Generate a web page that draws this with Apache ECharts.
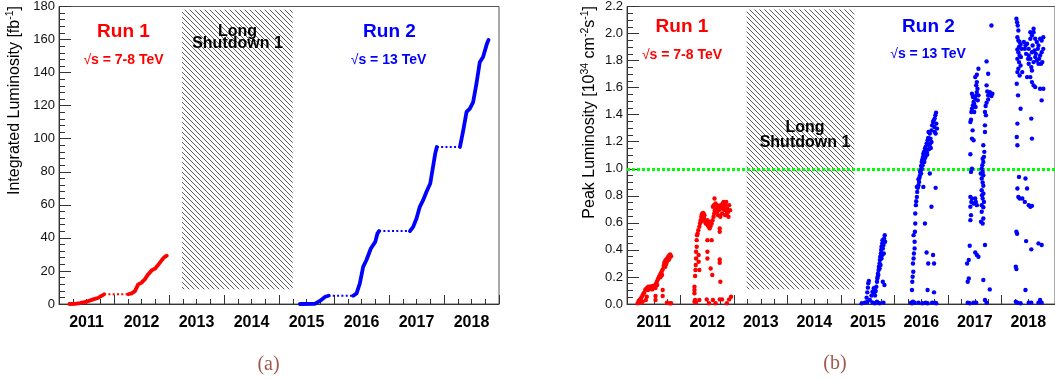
<!DOCTYPE html>
<html>
<head>
<meta charset="utf-8">
<script src="https://cdn.jsdelivr.net/npm/echarts@6/dist/echarts.min.js"></script>
<style>
  html, body { margin: 0; padding: 0; background: #fff; }
  #chart { width: 1055px; height: 380px; }
</style>
</head>
<body>
<div id="chart"></div>
<script>
// Year labels, centred on each calendar year
const years = ['2011', '2012', '2013', '2014', '2015', '2016', '2017', '2018'];

// Long Shutdown 1 period [start, end] in decimal years
const shutdownPeriod = [2013.236, 2015.25];

// Integrated luminosity [decimal year, fb^-1] per data-taking year
const intLumi2011 = [[2011.19, 0], [2011.29, 0.1], [2011.38, 0.6], [2011.50, 1.4], [2011.62, 2.8], [2011.72, 3.8], [2011.78, 5.0], [2011.82, 5.9]];
const intLumi2012 = [[2012.26, 5.9], [2012.32, 6.4], [2012.38, 7.8], [2012.42, 10.5], [2012.44, 11.9], [2012.50, 12.9], [2012.56, 14.9], [2012.62, 17.9], [2012.69, 20.5], [2012.75, 21.5], [2012.81, 24.0], [2012.87, 26.6], [2012.91, 28.2], [2012.96, 29.2]];
const intLumi2015 = [[2015.38, 0], [2015.65, 0.1], [2015.75, 2.0], [2015.84, 4.4], [2015.90, 5.0]];
const intLumi2016 = [[2016.35, 5.0], [2016.41, 6.4], [2016.47, 12.5], [2016.53, 22.5], [2016.59, 26.6], [2016.67, 33.6], [2016.75, 37.6], [2016.79, 42.7], [2016.82, 44.1]];
const intLumi2017 = [[2017.38, 44.1], [2017.44, 46.7], [2017.50, 51.7], [2017.56, 58.8], [2017.62, 62.8], [2017.68, 67.8], [2017.75, 72.9], [2017.79, 80.9], [2017.84, 91.0], [2017.87, 95.0]];
const intLumi2018 = [[2018.29, 95.0], [2018.35, 105.1], [2018.41, 116.2], [2018.47, 118.2], [2018.53, 122.2], [2018.59, 133.3], [2018.65, 146.3], [2018.71, 149.4], [2018.78, 157.4], [2018.81, 159.8]];

// Peak luminosity per fill [decimal year, 10^34 cm^-2 s^-1]
const peak2011 = [
  [2011.200, 0.005], [2011.218, 0.022], [2011.236, 0.030], [2011.261, 0.042], [2011.285, 0.059], [2011.303, 0.074], [2011.321, 0.084], [2011.339, 0.103],
  [2011.358, 0.113], [2011.382, 0.121], [2011.400, 0.128], [2011.418, 0.123], [2011.442, 0.130], [2011.461, 0.125], [2011.479, 0.133], [2011.503, 0.123],
  [2011.521, 0.138], [2011.539, 0.148], [2011.558, 0.165], [2011.576, 0.182], [2011.594, 0.197], [2011.612, 0.212], [2011.630, 0.226], [2011.648, 0.239],
  [2011.667, 0.256], [2011.685, 0.281], [2011.697, 0.305], [2011.715, 0.320], [2011.733, 0.330], [2011.752, 0.337], [2011.770, 0.349], [2011.788, 0.359],
  [2011.806, 0.367], [2011.824, 0.354], [2011.697, 0.288], [2011.715, 0.276], [2011.733, 0.295], [2011.745, 0.312], [2011.776, 0.325], [2011.794, 0.337],
  [2011.394, 0.103], [2011.430, 0.113], [2011.473, 0.108], [2011.533, 0.118], [2011.564, 0.140], [2011.624, 0.197], [2011.655, 0.214],
  [2011.352, 0.030], [2011.370, 0.054], [2011.533, 0.059], [2011.533, 0.030], [2011.667, 0.103], [2011.667, 0.059], [2011.745, 0.010],
  [2011.794, 0.005], [2011.824, 0.005], [2011.261, 0.010], [2011.291, 0.017]
];
const peak2012 = [
  [2012.261, 0.017], [2012.261, 0.103], [2012.261, 0.128], [2012.273, 0.207], [2012.279, 0.251], [2012.285, 0.288], [2012.291, 0.337], [2012.291, 0.386],
  [2012.303, 0.423], [2012.303, 0.472], [2012.309, 0.509], [2012.321, 0.522], [2012.333, 0.546], [2012.339, 0.362], [2012.339, 0.312], [2012.352, 0.251],
  [2012.352, 0.571], [2012.364, 0.595], [2012.376, 0.620], [2012.388, 0.645], [2012.400, 0.664], [2012.412, 0.669], [2012.424, 0.674], [2012.436, 0.664],
  [2012.448, 0.657], [2012.382, 0.608], [2012.412, 0.620], [2012.442, 0.632], [2012.461, 0.608], [2012.473, 0.595], [2012.491, 0.608], [2012.509, 0.583],
  [2012.527, 0.571], [2012.545, 0.559], [2012.564, 0.576], [2012.582, 0.595], [2012.600, 0.620], [2012.618, 0.645], [2012.630, 0.669], [2012.642, 0.694],
  [2012.636, 0.780], [2012.655, 0.743], [2012.667, 0.706], [2012.685, 0.682], [2012.703, 0.657], [2012.715, 0.694], [2012.733, 0.719], [2012.752, 0.731],
  [2012.770, 0.706], [2012.788, 0.743], [2012.806, 0.719], [2012.824, 0.694], [2012.836, 0.731], [2012.855, 0.755], [2012.873, 0.706], [2012.891, 0.682],
  [2012.909, 0.731], [2012.927, 0.694], [2012.606, 0.719], [2012.624, 0.731], [2012.685, 0.731], [2012.776, 0.669], [2012.867, 0.669], [2012.806, 0.755],
  [2012.897, 0.645], [2012.836, 0.657], [2012.745, 0.645], [2012.533, 0.608], [2012.503, 0.620],
  [2012.503, 0.472], [2012.503, 0.386], [2012.503, 0.337], [2012.564, 0.263], [2012.594, 0.214], [2012.582, 0.472], [2012.733, 0.559], [2012.733, 0.534],
  [2012.733, 0.330], [2012.733, 0.305], [2012.745, 0.165], [2012.273, 0.030], [2012.291, 0.010], [2012.491, 0.034], [2012.533, 0.005], [2012.606, 0.030],
  [2012.655, 0.005], [2012.733, 0.034], [2012.776, 0.034], [2012.867, 0.005], [2012.909, 0.034], [2012.945, 0.054], [2012.261, 0.079], [2012.352, 0.030]
];
const peak2015 = [
  [2015.388, 0.005], [2015.448, 0.010], [2015.491, 0.017], [2015.539, 0.030], [2015.588, 0.012], [2015.630, 0.005], [2015.672, 0.017], [2015.721, 0.005],
  [2015.794, 0.010], [2015.479, 0.047], [2015.491, 0.086], [2015.503, 0.121], [2015.509, 0.153], [2015.521, 0.170], [2015.570, 0.062], [2015.588, 0.091],
  [2015.612, 0.116], [2015.636, 0.062], [2015.648, 0.096], [2015.660, 0.128], [2015.673, 0.165], [2015.685, 0.202], [2015.691, 0.226], [2015.703, 0.251],
  [2015.709, 0.276], [2015.721, 0.300], [2015.727, 0.325], [2015.733, 0.349], [2015.745, 0.374], [2015.751, 0.399], [2015.757, 0.423], [2015.770, 0.448],
  [2015.776, 0.472], [2015.782, 0.411], [2015.794, 0.436], [2015.800, 0.374], [2015.806, 0.485], [2015.818, 0.509], [2015.824, 0.460], [2015.721, 0.263],
  [2015.739, 0.288], [2015.757, 0.337], [2015.770, 0.362], [2015.697, 0.214], [2015.679, 0.189], [2015.618, 0.079], [2015.782, 0.165], [2015.812, 0.140]
];
const peak2016 = [
  [2016.309, 0.010], [2016.327, 0.005], [2016.345, 0.017], [2016.376, 0.010], [2016.448, 0.010], [2016.521, 0.005], [2016.581, 0.010], [2016.618, 0.005],
  [2016.703, 0.010], [2016.751, 0.010], [2016.781, 0.005], [2016.327, 0.103], [2016.333, 0.165], [2016.339, 0.202], [2016.351, 0.239], [2016.345, 0.300],
  [2016.357, 0.337], [2016.363, 0.374], [2016.376, 0.460], [2016.382, 0.534], [2016.388, 0.595], [2016.388, 0.669], [2016.400, 0.731], [2016.406, 0.760],
  [2016.418, 0.792], [2016.424, 0.829], [2016.436, 0.859], [2016.448, 0.878], [2016.448, 0.923], [2016.460, 0.903], [2016.472, 0.947], [2016.478, 0.977],
  [2016.491, 0.989], [2016.497, 1.021], [2016.509, 1.001], [2016.509, 1.051], [2016.521, 1.070], [2016.533, 1.088], [2016.539, 1.112], [2016.551, 1.125],
  [2016.563, 1.075], [2016.569, 1.149], [2016.581, 1.161], [2016.593, 1.137], [2016.600, 1.186], [2016.612, 1.105], [2016.618, 1.211], [2016.630, 1.228],
  [2016.636, 1.272], [2016.648, 1.174], [2016.660, 1.260], [2016.672, 1.223], [2016.691, 1.284], [2016.703, 1.321], [2016.721, 1.346], [2016.733, 1.358],
  [2016.745, 1.309], [2016.751, 1.371], [2016.763, 1.395], [2016.776, 1.415], [2016.781, 1.334], [2016.794, 1.297], [2016.751, 1.272], [2016.769, 1.260],
  [2016.466, 0.933], [2016.497, 0.965], [2016.527, 1.026], [2016.557, 1.051], [2016.581, 1.088], [2016.606, 1.120], [2016.642, 1.144], [2016.666, 1.186],
  [2016.679, 1.154], [2016.691, 1.198], [2016.539, 0.866], [2016.660, 0.965], [2016.569, 0.595], [2016.691, 0.719], [2016.721, 0.362], [2016.600, 0.381],
  [2016.630, 0.300], [2016.739, 0.300], [2016.769, 0.859], [2016.618, 0.103], [2016.739, 0.086], [2016.418, 0.866], [2016.357, 0.509], [2016.376, 0.411]
];
const peak2017 = [
  [2017.369, 0.010], [2017.406, 0.005], [2017.478, 0.010], [2017.527, 0.010], [2017.691, 0.030], [2017.721, 0.010], [2017.369, 0.165], [2017.388, 0.189],
  [2017.357, 0.300], [2017.388, 0.325], [2017.406, 0.431], [2017.418, 0.620], [2017.430, 0.657], [2017.418, 0.719], [2017.436, 0.755], [2017.448, 0.780],
  [2017.418, 0.792], [2017.478, 0.743], [2017.509, 0.780], [2017.539, 0.731], [2017.521, 0.755], [2017.430, 0.977], [2017.448, 1.001], [2017.418, 1.107],
  [2017.448, 1.223], [2017.478, 1.211], [2017.418, 1.346], [2017.430, 1.363], [2017.436, 1.420], [2017.448, 1.444], [2017.466, 1.469], [2017.478, 1.494],
  [2017.491, 1.479], [2017.509, 1.518], [2017.527, 1.543], [2017.539, 1.567], [2017.551, 1.592], [2017.527, 1.617], [2017.539, 1.641], [2017.509, 1.678],
  [2017.539, 1.695], [2017.448, 1.555], [2017.466, 1.531], [2017.557, 1.506], [2017.569, 1.543], [2017.460, 1.284], [2017.491, 1.420], [2017.515, 1.457],
  [2017.569, 1.740], [2017.721, 1.794], [2017.751, 1.703], [2017.721, 1.617], [2017.733, 1.572], [2017.751, 1.543], [2017.769, 1.555], [2017.781, 1.567],
  [2017.793, 1.548], [2017.812, 1.538], [2017.830, 1.555], [2017.751, 1.513], [2017.721, 1.489], [2017.703, 1.464], [2017.691, 1.420], [2017.709, 1.395],
  [2017.691, 1.321], [2017.691, 1.272], [2017.660, 1.174], [2017.679, 1.125], [2017.648, 1.075], [2017.660, 1.051], [2017.630, 1.001], [2017.648, 0.977],
  [2017.660, 0.952], [2017.630, 0.928], [2017.648, 0.898], [2017.660, 0.874], [2017.630, 0.842], [2017.660, 0.817], [2017.648, 0.780], [2017.630, 0.731],
  [2017.660, 0.716], [2017.630, 0.682], [2017.660, 0.632], [2017.618, 0.608], [2017.648, 0.595], [2017.691, 0.436], [2017.660, 0.177], [2017.781, 0.108],
  [2017.539, 0.362], [2017.509, 0.381], [2017.569, 0.349], [2017.812, 2.060], [2017.612, 0.965], [2017.642, 1.026], [2017.672, 1.088], [2017.636, 0.805],
  [2017.672, 0.755]
];
const peak2018 = [
  [2018.279, 2.109], [2018.291, 2.084], [2018.303, 2.060], [2018.315, 2.023], [2018.297, 1.973], [2018.315, 1.949], [2018.339, 1.937], [2018.357, 1.917],
  [2018.327, 1.900], [2018.297, 1.882], [2018.315, 1.862], [2018.339, 1.838], [2018.363, 1.826], [2018.297, 1.813], [2018.327, 1.789], [2018.357, 1.764],
  [2018.315, 1.740], [2018.297, 1.715], [2018.339, 1.690], [2018.388, 1.715], [2018.376, 1.887], [2018.285, 1.629], [2018.309, 1.543], [2018.297, 1.334],
  [2018.357, 1.444], [2018.285, 1.235], [2018.297, 1.174], [2018.327, 0.940], [2018.297, 0.854], [2018.315, 0.792], [2018.339, 0.780], [2018.279, 0.534],
  [2018.291, 0.519], [2018.267, 0.276], [2018.279, 0.258], [2018.267, 0.017], [2018.297, 0.010], [2018.357, 0.005], [2018.418, 1.937], [2018.448, 1.912],
  [2018.478, 1.924], [2018.509, 1.887], [2018.539, 1.961], [2018.569, 1.986], [2018.600, 2.010], [2018.630, 1.961], [2018.660, 1.937], [2018.691, 1.912],
  [2018.721, 1.961], [2018.751, 1.949], [2018.781, 1.973], [2018.509, 1.838], [2018.539, 1.813], [2018.569, 1.862], [2018.600, 1.789], [2018.630, 1.826],
  [2018.660, 1.801], [2018.691, 1.777], [2018.721, 1.838], [2018.751, 1.862], [2018.781, 1.887], [2018.509, 1.777], [2018.557, 1.752], [2018.582, 1.912],
  [2018.618, 1.875], [2018.642, 1.850], [2018.679, 1.887], [2018.703, 1.813], [2018.739, 1.777], [2018.763, 1.789], [2018.569, 1.727], [2018.539, 1.678],
  [2018.569, 1.641], [2018.600, 1.617], [2018.630, 1.604], [2018.478, 1.678], [2018.539, 2.010], [2018.600, 2.035], [2018.436, 1.887], [2018.460, 1.850],
  [2018.497, 1.813], [2018.448, 0.928], [2018.478, 0.854], [2018.509, 0.731], [2018.539, 0.719], [2018.569, 0.726], [2018.557, 1.371], [2018.569, 1.223],
  [2018.460, 0.465], [2018.557, 0.404], [2018.691, 0.448], [2018.751, 0.436], [2018.721, 1.592], [2018.751, 1.506], [2018.781, 1.592], [2018.448, 0.103],
  [2018.509, 0.010], [2018.557, 0.010], [2018.691, 0.010], [2018.721, 0.030], [2018.751, 0.010], [2018.388, 0.780], [2018.436, 0.755]
];

// Design luminosity reference level
const designPeak = 1.0;

const RED = '#ff0000';
const BLUE = '#0000ff';
const AXIS = '#333333';
const FONT = '"Liberation Sans", Arial, Helvetica, sans-serif';

// Diagonal hatch tile for the shutdown band
function hatchPattern() {
  const s = 5;
  const c = document.createElement('canvas');
  c.width = s; c.height = s;
  const g = c.getContext('2d');
  g.strokeStyle = '#4a4a4a';
  g.lineWidth = 0.9;
  g.beginPath();
  g.moveTo(-1, -1); g.lineTo(s + 1, s + 1);
  g.moveTo(-1, s - 1); g.lineTo(1, s + 1);
  g.moveTo(s - 1, -1); g.lineTo(s + 1, 1);
  g.stroke();
  return c;
}
const hatch = { image: hatchPattern(), repeat: 'repeat' };

function timeAxis(gridIndex) {
  return {
    type: 'value', gridIndex, min: 2011, max: 2019, interval: 1,
    axisLine: { show: true, onZero: false, lineStyle: { color: AXIS, width: 1 } },
    axisTick: { show: true, inside: true, length: 9, lineStyle: { color: AXIS } },
    minorTick: { show: true, splitNumber: 4, length: 5, lineStyle: { color: AXIS } },
    axisLabel: { show: false },
    splitLine: { show: false }
  };
}
function yearLabelAxis(gridIndex) {
  return {
    type: 'category', gridIndex, data: years, boundaryGap: true, position: 'bottom',
    axisLine: { show: false }, axisTick: { show: false }, splitLine: { show: false },
    axisLabel: { margin: 11, fontSize: 16, fontWeight: 'bold', color: '#000', fontFamily: FONT }
  };
}
function valueAxis(gridIndex, max, interval, minorSplit, fmt) {
  return {
    type: 'value', gridIndex, min: 0, max, interval,
    axisLine: { show: true, onZero: false, lineStyle: { color: AXIS, width: 1 } },
    axisTick: { show: true, inside: true, length: 12, lineStyle: { color: AXIS } },
    minorTick: { show: true, splitNumber: minorSplit, length: 6, lineStyle: { color: AXIS } },
    splitLine: { show: false },
    axisLabel: { margin: 4, fontSize: 13, color: '#111', fontFamily: FONT, formatter: fmt }
  };
}

function shutdownArea(xAxisIndex, yAxisIndex, yLow, yHigh) {
  return {
    type: 'line', xAxisIndex, yAxisIndex, data: [], silent: true, z: 1,
    markArea: {
      silent: true,
      itemStyle: { color: hatch, borderWidth: 0 },
      label: { show: false },
      data: [[{ xAxis: shutdownPeriod[0], yAxis: yLow }, { xAxis: shutdownPeriod[1], yAxis: yHigh }]]
    }
  };
}

function solidRun(data, color) {
  return {
    type: 'line', xAxisIndex: 0, yAxisIndex: 0, data, showSymbol: false, symbol: 'none', z: 4,
    lineStyle: { color, width: 3.8, cap: 'round', join: 'round' }
  };
}
function gapRun(prev, next, color) {
  return {
    type: 'line', xAxisIndex: 0, yAxisIndex: 0, showSymbol: false, symbol: 'none', z: 3,
    data: [prev[prev.length - 1], next[0]],
    lineStyle: { color, width: 2, type: [2, 2.3] }
  };
}
function peakScatter(data, color) {
  return {
    type: 'scatter', xAxisIndex: 2, yAxisIndex: 1, data, symbol: 'circle', symbolSize: 4.4, z: 5,
    itemStyle: { color, opacity: 1 }
  };
}

function label(x, y, text, size, color, weight) {
  return {
    type: 'text', x, y, z: 50,
    style: { text, fill: color, font: `${weight || 'bold'} ${size}px ${FONT}`, align: 'center', verticalAlign: 'middle' }
  };
}
function rootLabel(x, y, text, color) {
  return {
    type: 'text', x, y, z: 50,
    style: {
      text: '{r|√}{t|' + text + '}', align: 'center', verticalAlign: 'middle',
      rich: {
        r: { fill: color, fontFamily: FONT, fontSize: 14, fontWeight: 'normal' },
        t: { fill: color, fontFamily: FONT, fontSize: 14, fontWeight: 'bold' }
      }
    }
  };
}
function axisTitle(x, y, parts) {
  return {
    type: 'text', x, y, rotation: Math.PI / 2, z: 50,
    style: {
      text: parts, align: 'right', verticalAlign: 'middle',
      rich: {
        n: { fill: '#000', fontFamily: FONT, fontSize: 16, lineHeight: 21 },
        s: { fill: '#000', fontFamily: FONT, fontSize: 10.5, lineHeight: 12, verticalAlign: 'top' }
      }
    }
  };
}

const option = {
  animation: false,
  backgroundColor: '#fff',
  grid: [
    { left: 59, top: 6, width: 440, height: 298, show: true, borderColor: '#555', borderWidth: 1, backgroundColor: 'transparent' },
    { left: 627, top: 6, width: 440, height: 298, show: true, borderColor: '#555', borderWidth: 1, backgroundColor: 'transparent' }
  ],
  xAxis: [timeAxis(0), yearLabelAxis(0), timeAxis(1), yearLabelAxis(1)],
  yAxis: [
    valueAxis(0, 180, 20, 5, v => String(v)),
    valueAxis(1, 2.2, 0.2, 4, v => v.toFixed(1))
  ],
  series: [
    shutdownArea(0, 0, 9, 178),
    solidRun(intLumi2011, RED), solidRun(intLumi2012, RED),
    gapRun(intLumi2011, intLumi2012, RED),
    solidRun(intLumi2015, BLUE), solidRun(intLumi2016, BLUE), solidRun(intLumi2017, BLUE), solidRun(intLumi2018, BLUE),
    gapRun(intLumi2015, intLumi2016, BLUE), gapRun(intLumi2016, intLumi2017, BLUE), gapRun(intLumi2017, intLumi2018, BLUE),

    shutdownArea(2, 1, 0.11, 2.177),
    {
      type: 'line', xAxisIndex: 2, yAxisIndex: 1, data: [], silent: true, z: 3,
      markLine: {
        silent: true, symbol: 'none', label: { show: false },
        lineStyle: { color: '#00ff00', width: 3, type: [3, 2] },
        data: [{ yAxis: designPeak }]
      }
    },
    peakScatter(peak2011, RED), peakScatter(peak2012, RED),
    peakScatter(peak2015, BLUE), peakScatter(peak2016, BLUE), peakScatter(peak2017, BLUE), peakScatter(peak2018, BLUE)
  ],
  graphic: [
    axisTitle(15, 6, '{n|Integrated Luminosity [fb}{s|-1}{n|]}'),
    axisTitle(590, 6, '{n|Peak Luminosity [10}{s|34}{n| cm}{s|-2}{n|s}{s|-1}{n|]}'),

    label(123.5, 32, 'Run 1', 19, RED),
    rootLabel(123.5, 60, 's = 7-8 TeV', RED),
    label(389.5, 32, 'Run 2', 19, BLUE),
    rootLabel(388.5, 60, 's = 13 TeV', BLUE),
    label(237.5, 32, 'Long', 16, '#000'),
    label(237.5, 43.5, 'Shutdown 1', 16, '#000'),

    label(682, 27, 'Run 1', 19, RED),
    rootLabel(682, 55, 's = 7-8 TeV', RED),
    label(928.5, 26.5, 'Run 2', 19, BLUE),
    rootLabel(928, 54, 's = 13 TeV', BLUE),
    label(805, 127.5, 'Long', 16, '#000'),
    label(805, 142.5, 'Shutdown 1', 16, '#000'),

    { type: 'text', x: 268.5, y: 364.5, z: 50, style: { text: '(a)', fill: '#9e5a4e', font: '20px "Liberation Serif", "DejaVu Serif", serif', align: 'center', verticalAlign: 'middle' } },
    { type: 'text', x: 835, y: 364, z: 50, style: { text: '(b)', fill: '#9e5a4e', font: '20px "Liberation Serif", "DejaVu Serif", serif', align: 'center', verticalAlign: 'middle' } }
  ]
};

const chart = echarts.init(document.getElementById('chart'), null, { renderer: 'canvas' });
chart.setOption(option);
</script>
</body>
</html>
